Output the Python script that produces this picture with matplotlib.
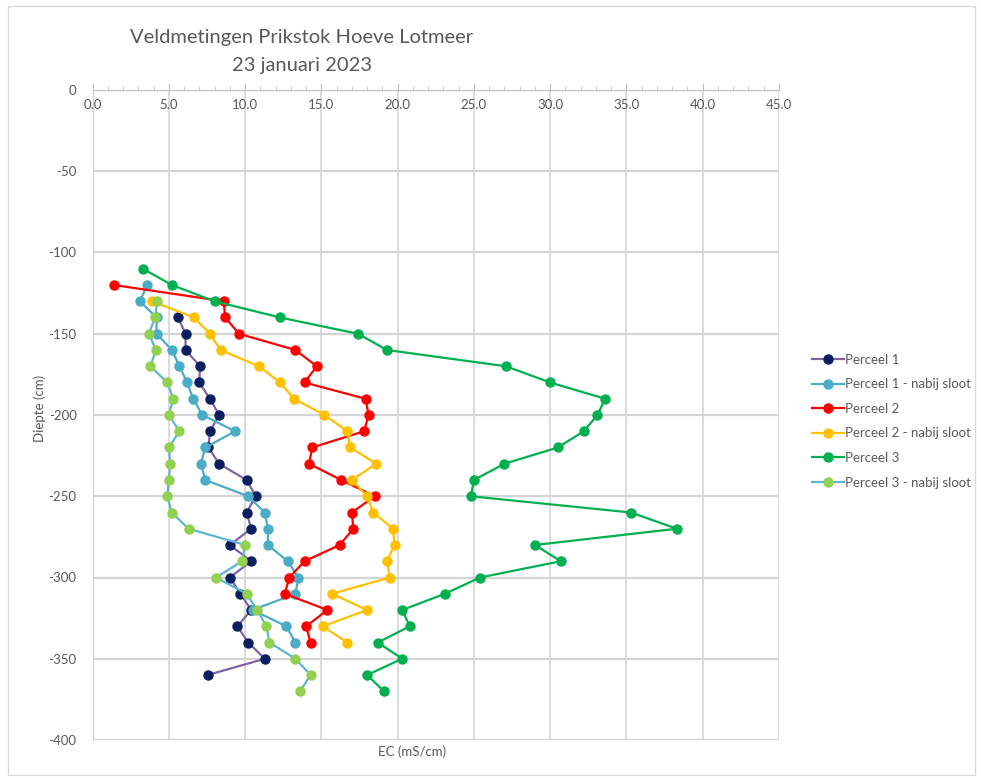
import matplotlib
matplotlib.use("Agg")
import matplotlib.pyplot as plt
from matplotlib.patches import Rectangle
from matplotlib.ticker import MultipleLocator

plt.rcParams['font.family'] = ['Lato', 'DejaVu Sans']
plt.rcParams['axes.unicode_minus'] = False

# EC (mS/cm) per diepte (cm), veldmetingen 23-01-2023
depth_p1 = [-140, -150, -160, -170, -180, -190, -200, -210, -220, -230, -240, -250,
            -260, -270, -280, -290, -300, -310, -320, -330, -340, -350, -360]
ec_p1 = [5.6, 6.1, 6.1, 7.05, 7.0, 7.7, 8.3, 7.7, 7.6, 8.3, 10.1, 10.7,
         10.1, 10.4, 9.0, 10.4, 9.0, 9.7, 10.4, 9.5, 10.2, 11.3, 7.55]

depth_p1s = [-120, -130, -140, -150, -160, -170, -180, -190, -200, -210, -220, -230,
             -240, -250, -260, -270, -280, -290, -300, -310, -320, -330, -340]
ec_p1s = [3.6, 3.1, 4.2, 4.2, 5.2, 5.7, 6.2, 6.6, 7.2, 9.35, 7.4, 7.1,
          7.4, 10.2, 11.3, 11.5, 11.5, 12.8, 13.5, 13.3, 10.5, 12.7, 13.3]

depth_p2 = [-120, -130, -140, -150, -160, -170, -180, -190, -200, -210, -220, -230,
            -240, -250, -260, -270, -280, -290, -300, -310, -320, -330, -340]
ec_p2 = [1.4, 8.6, 8.7, 9.6, 13.3, 14.7, 13.9, 17.9, 18.1, 17.8, 14.4, 14.2,
         16.3, 18.5, 17.0, 17.1, 16.2, 13.9, 12.9, 12.6, 15.4, 14.0, 14.3]

depth_p2s = [-130, -140, -150, -160, -170, -180, -190, -200, -210, -220, -230,
             -240, -250, -260, -270, -280, -290, -300, -310, -320, -330, -340]
ec_p2s = [3.9, 6.65, 7.7, 8.4, 10.9, 12.3, 13.2, 15.2, 16.7, 16.9, 18.6,
          17.0, 18.0, 18.4, 19.7, 19.8, 19.3, 19.5, 15.7, 18.0, 15.1, 16.7]

depth_p3 = [-110, -120, -130, -140, -150, -160, -170, -180, -190, -200, -210, -220,
            -230, -240, -250, -260, -270, -280, -290, -300, -310, -320, -330, -340,
            -350, -360, -370]
ec_p3 = [3.3, 5.2, 8.0, 12.3, 17.4, 19.3, 27.1, 30.0, 33.6, 33.1, 32.2, 30.5,
         27.0, 25.0, 24.8, 35.3, 38.3, 29.0, 30.7, 25.4, 23.1, 20.3, 20.8, 18.7,
         20.3, 18.0, 19.1]

depth_p3s = [-130, -140, -150, -160, -170, -180, -190, -200, -210, -220, -230, -240,
             -250, -260, -270, -280, -290, -300, -310, -320, -330, -340, -350, -360,
             -370]
ec_p3s = [4.25, 4.1, 3.7, 4.15, 3.8, 4.9, 5.3, 5.0, 5.7, 5.0, 5.1, 5.0,
          4.9, 5.2, 6.3, 10.0, 9.8, 8.1, 10.1, 10.8, 11.4, 11.6, 13.3, 14.3,
          13.6]

series = [
    ("Perceel 1", ec_p1, depth_p1, '#8064a2', '#0b1f5e'),
    ("Perceel 1 - nabij sloot", ec_p1s, depth_p1s, '#4bacc6', '#4bacc6'),
    ("Perceel 2", ec_p2, depth_p2, '#ff0000', '#ff0000'),
    ("Perceel 2 - nabij sloot", ec_p2s, depth_p2s, '#ffc000', '#ffc000'),
    ("Perceel 3", ec_p3, depth_p3, '#00b050', '#00b050'),
    ("Perceel 3 - nabij sloot", ec_p3s, depth_p3s, '#5fb4d4', '#92d050'),
]

W, H = 981, 778
fig = plt.figure(figsize=(W / 100, H / 100), dpi=100)
ax = fig.add_axes([92.5 / W, 1 - 740 / H, (779 - 92.5) / W, (740 - 90) / H])

for label, x, y, lc, mc in series:
    ax.plot(x, y, '-o', color=lc, markerfacecolor=mc, markeredgecolor=mc,
            lw=1.6, markersize=6.5, label=label, clip_on=False, zorder=3)

ax.set_xlim(0, 45)
ax.set_ylim(-400, 0)
ax.xaxis.set_minor_locator(MultipleLocator(1))
ax.set_xticks(range(0, 50, 5))
ax.set_xticklabels([f"{v:.1f}" for v in range(0, 50, 5)])
yt = list(range(-400, 50, 50))
ax.set_yticks(yt)

ax.xaxis.tick_top()
ax.tick_params(axis='x', which='major', direction='out', length=5, color='#bfbfbf',
               labelsize=9.5, labelcolor='#595959', pad=-20)
ax.tick_params(axis='x', which='minor', direction='out', length=3, color='#bfbfbf')
ax.tick_params(axis='y', color='none', labelsize=9.5, labelcolor='#595959', pad=8)

ax.xaxis.grid(True, which='major', color='#d9d9d9', lw=1.3)
ax.yaxis.grid(True, which='major', color='#d4d4d4', lw=1.6)
ax.set_axisbelow(True)

for s in ['bottom', 'right']:
    ax.spines[s].set_visible(False)
ax.spines['top'].set_color('#bfbfbf')
ax.spines['left'].set_color('#d0d0d0')

fig.text(40 / W, 1 - 408 / H, "Diepte (cm)", rotation=90, ha='center', va='center',
         fontsize=9.5, color='#595959')
fig.text(412 / W, 1 - 752 / H, "EC (mS/cm)", ha='center', va='center',
         fontsize=9.5, color='#595959')
fig.text(302 / W, 1 - 38 / H, "Veldmetingen Prikstok Hoeve Lotmeer", ha='center',
         va='center', fontsize=14.5, color='#595959')
fig.text(302 / W, 1 - 66 / H, "23 januari 2023", ha='center', va='center',
         fontsize=14.5, color='#595959')

fig.legend(loc='upper left', bbox_to_anchor=(800 / W, 1 - 342 / H), frameon=False,
           fontsize=9.5, labelcolor='#595959', handlelength=2.4, handletextpad=0.1,
           labelspacing=0.95)

fig.patches.append(Rectangle((8 / W, 3 / H), (975 - 8) / W, (772 - 3) / H,
                             transform=fig.transFigure, fill=False,
                             edgecolor='#d9d9d9', lw=1))

fig.savefig("out.png", dpi=100)
